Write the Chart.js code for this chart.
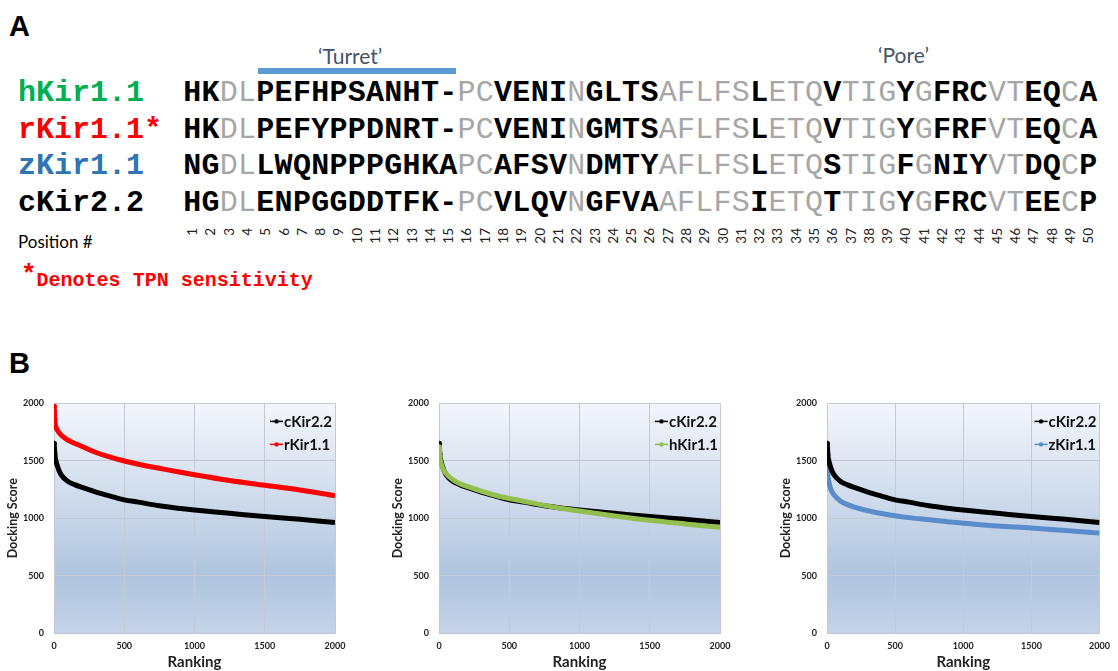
<!DOCTYPE html>
<html>
<head>
<meta charset="utf-8">
<script src="https://cdn.jsdelivr.net/npm/chart.js@4.4.1/dist/chart.umd.min.js"></script>
<style>
  body { margin: 0; background: #fff; }
  #page { position: relative; width: 1118px; height: 671px; overflow: hidden; }
  .abs { position: absolute; white-space: pre; }
  .panel { font-family: "Liberation Sans", Arial, sans-serif; font-weight: bold; font-size: 29px; line-height: 30px; color: #000; }
  .mono { font-family: "Courier New", "Nimbus Mono PS", "Nimbus Mono L", FreeMono, "Liberation Mono", monospace; }
  .name { font-weight: bold; font-size: 30px; line-height: 30px; }
  .aa { font-weight: bold; font-size: 30px; line-height: 30px; width: 18.3px; text-align: center; color: #000; }
  .aa.cons { color: #a6a6a6; font-weight: normal; }
  .pos { font-family: Lato, sans-serif; font-size: 13.5px; line-height: 14px; width: 22px; text-align: right; color: #222;
         transform-origin: 0 0; transform: rotate(-90deg) translate(-22px, -7px); }
  .region { font-family: Lato, sans-serif; font-size: 21px; line-height: 22px; color: #44546a; }
  canvas { position: absolute; }
</style>
</head>
<body>
<div id="page">
  <div class="abs panel" style="left:9px; top:11px;">A</div>
  <div class="abs panel" style="left:9px; top:348px;">B</div>

  <div class="abs region" style="left:318px; top:45px;">‘Turret’</div>
  <div class="abs" style="left:258px; top:68px; width:198px; height:6px; background:#5b9bd5;"></div>
  <div class="abs region" style="left:878px; top:44px;">‘Pore’</div>

  <div class="abs" style="left:18px; top:231px; font-family:Lato, sans-serif; font-size:17px; color:#000;">Position #</div>
  <div class="abs mono" style="left:21px; top:262px; font-weight:bold; color:#ff0000; line-height:26px;"><span style="font-size:26px;">*</span><span style="font-size:20px; position:relative; top:4px;">Denotes TPN sensitivity</span></div>

  <canvas id="chart1" width="372" height="283" style="left:0px; top:388px;"></canvas>
  <canvas id="chart2" width="372" height="283" style="left:385px; top:388px;"></canvas>
  <canvas id="chart3" width="345" height="283" style="left:773px; top:388px;"></canvas>
</div>

<script>
  // ---- Panel A: alignment ----
  const seqNames = ['hKir1.1', 'rKir1.1*', 'zKir1.1', 'cKir2.2'];
  const nameColors = ['#00b050', '#ff0000', '#2e75b6', '#000000'];
  const sequences = [
    'HKDLPEFHPSANHT-PCVENINGLTSAFLFSLETQVTIGYGFRCVTEQCA',
    'HKDLPEFYPPDNRT-PCVENINGMTSAFLFSLETQVTIGYGFRFVTEQCA',
    'NGDLLWQNPPPGHKAPCAFSVNDMTYAFLFSLETQSTIGFGNIYVTDQCP',
    'HGDLENPGGDDTFK-PCVLQVNGFVAAFLFSIETQTTIGYGFRCVTEECP'
  ];
  // positions (1-based) shown in grey
  const conserved = [3, 4, 16, 17, 22, 27, 28, 29, 30, 31, 33, 34, 35, 37, 38, 39, 41, 45, 46, 49];
  const positions = Array.from({ length: 50 }, (_, i) => i + 1);

  const page = document.getElementById('page');
  const rowY = [93, 130, 166, 203];
  const seqX0 = 183, step = 18.29;

  seqNames.forEach((n, r) => {
    const d = document.createElement('div');
    d.className = 'abs mono name';
    d.style.left = '18px';
    d.style.top = (rowY[r] - 15) + 'px';
    d.style.color = nameColors[r];
    d.textContent = n;
    page.appendChild(d);

    sequences[r].split('').forEach((ch, i) => {
      const s = document.createElement('div');
      s.className = 'abs mono aa' + (conserved.includes(i + 1) ? ' cons' : '');
      s.style.left = (seqX0 + i * step) + 'px';
      s.style.top = (rowY[r] - 15) + 'px';
      s.textContent = ch;
      page.appendChild(s);
    });
  });

  positions.forEach((p, i) => {
    const s = document.createElement('div');
    s.className = 'abs pos';
    s.style.left = (seqX0 + i * step + step / 2) + 'px';
    s.style.top = '228px';
    s.textContent = p;
    page.appendChild(s);
  });

  // ---- Panel B: docking score curves ----
  const ranking = [1, 2, 3, 5, 10, 25, 50, 100, 150, 200, 300, 400, 500, 600, 750, 900, 1000, 1250, 1500, 1750, 2000];
  const cKir22 = [1650, 1610, 1585, 1560, 1520, 1450, 1380, 1320, 1290, 1268, 1228, 1193, 1160, 1140, 1108, 1085, 1072, 1043, 1014, 990, 962];
  const rKir11 = [1975, 1930, 1895, 1860, 1810, 1765, 1725, 1680, 1650, 1625, 1572, 1532, 1498, 1470, 1435, 1400, 1378, 1328, 1287, 1246, 1196];
  const hKir11 = [1620, 1595, 1570, 1540, 1500, 1440, 1390, 1335, 1300, 1278, 1236, 1200, 1172, 1148, 1112, 1080, 1062, 1020, 982, 950, 920];
  const zKir11 = [1590, 1445, 1420, 1380, 1340, 1262, 1205, 1148, 1118, 1097, 1065, 1041, 1021, 1005, 986, 967, 957, 933, 915, 893, 870];
  const xTicks = [0, 500, 1000, 1500, 2000];
  const yTicks = [0, 500, 1000, 1500, 2000];

  const plotBg = {
    id: 'plotBg',
    beforeDraw(chart) {
      const { ctx, chartArea: a } = chart;
      const g = ctx.createLinearGradient(0, a.top, 0, a.bottom);
      g.addColorStop(0, '#f3f6fb');
      g.addColorStop(0.4, '#d0dcec');
      g.addColorStop(0.75, '#afc4df');
      g.addColorStop(1, '#c4d3e8');
      ctx.save();
      ctx.fillStyle = g;
      ctx.fillRect(a.left, a.top, a.width, a.height);
      ctx.restore();
    }
  };

  // legend drawn inside the plot, top right
  const insideLegend = {
    id: 'insideLegend',
    afterDraw(chart) {
      const { ctx, chartArea: a } = chart;
      chart.data.datasets.forEach((ds, i) => {
        const y = a.top + 18 + i * 23;
        const x0 = a.right - 65;
        ctx.save();
        ctx.strokeStyle = ds.borderColor;
        ctx.lineWidth = 1.5;
        ctx.beginPath();
        ctx.moveTo(x0, y);
        ctx.lineTo(x0 + 13, y);
        ctx.stroke();
        ctx.fillStyle = ds.borderColor;
        ctx.beginPath();
        ctx.arc(x0 + 6.5, y, 2.2, 0, Math.PI * 2);
        ctx.fill();
        ctx.fillStyle = '#111';
        ctx.font = 'bold 15px Lato';
        ctx.textBaseline = 'middle';
        ctx.fillText(ds.label, x0 + 14, y + 1);
        ctx.restore();
      });
    }
  };

  function series(label, values, color, order) {
    return {
      label,
      data: ranking.map((r, i) => ({ x: r, y: values[i] })),
      borderColor: color,
      backgroundColor: color,
      borderWidth: 5,
      pointRadius: (c) => (c.dataIndex < 4 ? 2.8 : 0),
      pointBorderWidth: 0,
      pointBackgroundColor: color,
      cubicInterpolationMode: 'monotone',
      fill: false,
      order
    };
  }

  const tickFont = { family: 'Lato', weight: 'bold', size: 9 };
  const plain = (v) => String(v);

  function makeChart(id, datasets, padRight) {
    new Chart(document.getElementById(id), {
      type: 'line',
      data: { datasets },
      options: {
        responsive: false,
        animation: false,
        layout: { padding: { top: 15, right: padRight, left: 0, bottom: 0 } },
        plugins: { legend: { display: false }, tooltip: { enabled: false } },
        scales: {
          x: {
            type: 'linear', min: 0, max: 2000,
            afterBuildTicks: (s) => { s.ticks = xTicks.map((v) => ({ value: v })); },
            afterFit: (s) => { s.height = 38; },
            grid: { color: '#c3cad5', drawTicks: false },
            border: { color: '#c3cad5' },
            ticks: { padding: 8, font: tickFont, color: '#222', maxRotation: 0, callback: plain },
            title: { display: true, text: 'Ranking', color: '#222', font: { family: 'Lato', weight: 'bold', size: 15 }, padding: { top: 0, bottom: 0 } }
          },
          y: {
            min: 0, max: 2000,
            afterBuildTicks: (s) => { s.ticks = yTicks.map((v) => ({ value: v })); },
            afterFit: (s) => { s.width = 54; },
            grid: { color: '#c3cad5', drawTicks: false },
            border: { color: '#c3cad5' },
            ticks: { padding: 10, font: tickFont, color: '#222', callback: plain },
            title: { display: true, text: 'Docking Score', color: '#222', font: { family: 'Lato', weight: 'bold', size: 12.5 }, padding: { top: 5, bottom: 0 } }
          }
        }
      },
      plugins: [plotBg, insideLegend]
    });
  }

  makeChart('chart1', [series('cKir2.2', cKir22, '#000000', 1), series('rKir1.1', rKir11, '#ff0000', 0)], 37);
  makeChart('chart2', [series('cKir2.2', cKir22, '#000000', 1), series('hKir1.1', hKir11, '#93bf4f', 0)], 37);
  makeChart('chart3', [series('cKir2.2', cKir22, '#000000', 0), series('zKir1.1', zKir11, '#5a8ccb', 1)], 10);
</script>
</body>
</html>
